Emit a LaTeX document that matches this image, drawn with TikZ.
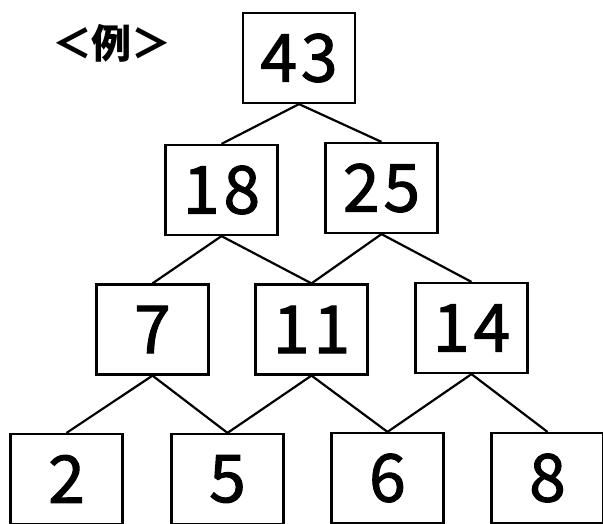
\documentclass[tikz,border=0pt]{standalone}
\usepackage{fontspec}
\newfontfamily\jpfont{Noto Sans CJK JP}
\newfontfamily\numfont[LetterSpace=6,FakeBold=1.6]{Noto Sans CJK JP}
\begin{document}
\begin{tikzpicture}[x=1pt,y=-1pt,
  numbox/.style={draw,line width=2.2pt,minimum width=112pt,minimum height=90pt,inner sep=0pt,
    font=\numfont\fontsize{66}{66}\selectfont},
  link/.style={line width=2.2pt}]
\useasboundingbox (0,0) rectangle (603,523);

% label
\node (rei) at (112,43) {\jpfont\bfseries\fontsize{40}{40}\selectfont ＜例＞};

% boxes, top to bottom
\node[numbox] (n43) at (299,58) {43};

\node[numbox] (n18) at (221.5,190) {18};
\node[numbox] (n25) at (381.5,188) {25};

\node[numbox] (n7) at (152.5,329.5) {7};
\node[numbox] (n11) at (311.5,329.5) {11};
\node[numbox] (n14) at (471.5,328) {14};

\node[numbox] (n2) at (66.5,479) {2};
\node[numbox] (n5) at (227.5,479) {5};
\node[numbox] (n6) at (387.5,478) {6};
\node[numbox] (n8) at (547.5,478) {8};

% links
\foreach \a/\b in {n43/n18,n43/n25,n18/n7,n18/n11,n25/n11,n25/n14,n7/n2,n7/n5,n11/n5,n11/n6,n14/n6,n14/n8}
\draw[link] (\a.south) -- (\b.north);
\end{tikzpicture}
\end{document}
